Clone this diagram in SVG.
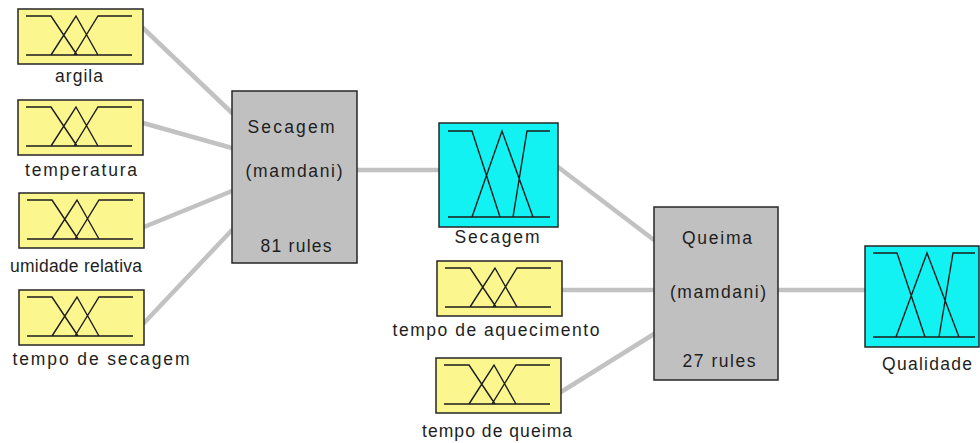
<svg xmlns="http://www.w3.org/2000/svg" width="980" height="443" viewBox="0 0 980 443">
<style>
.bg{fill:#ffffff}
.yb{fill:#fbf68e;stroke:#262626;stroke-width:1.5}
.cb{fill:#12f2f2;stroke:#262626;stroke-width:1.5}
.rb{fill:#c0c0c0;stroke:#262626;stroke-width:1.5}
.mf{fill:none;stroke:#1c1c1c;stroke-width:1.4}
.cn{stroke:#c2c2c2;stroke-width:4.5;stroke-linecap:round;fill:none}
text{font-family:"Liberation Sans",Arial,sans-serif;font-size:17.5px;fill:#1e1e1e;text-anchor:middle}
</style>
<defs>
<g id="ymf">
<rect class="yb" x="0" y="0" width="125" height="55"/>
<path class="mf" d="M8,46 H114 M8,7 H33 L59,46 M33,46 L58,7 L80,46 M56,46 L80,7 H114"/>
</g>
</defs>
<rect class="bg" x="0" y="0" width="980" height="443"/>
<g id="connectors">
<line class="cn" x1="143" y1="28" x2="232" y2="113"/>
<line class="cn" x1="143" y1="123" x2="232" y2="148"/>
<line class="cn" x1="144" y1="227" x2="232" y2="191"/>
<line class="cn" x1="144" y1="323" x2="232" y2="230"/>
<line class="cn" x1="357" y1="170" x2="439" y2="170"/>
<line class="cn" x1="558" y1="167" x2="654" y2="240"/>
<line class="cn" x1="562" y1="290" x2="654" y2="290"/>
<line class="cn" x1="561" y1="392" x2="654" y2="334"/>
<line class="cn" x1="778" y1="290" x2="865" y2="290"/>
</g>
<g id="argila">
<use href="#ymf" x="18" y="9"/>
<text x="79" y="82" textLength="48" lengthAdjust="spacing">argila</text>
</g>
<g id="temperatura">
<use href="#ymf" x="18" y="100"/>
<text x="81" y="176" textLength="112" lengthAdjust="spacing">temperatura</text>
</g>
<g id="umidade-relativa">
<use href="#ymf" x="19" y="193"/>
<text x="76" y="272" textLength="132" lengthAdjust="spacing">umidade relativa</text>
</g>
<g id="tempo-de-secagem">
<use href="#ymf" x="19" y="290"/>
<text x="101" y="365" textLength="177" lengthAdjust="spacing">tempo de secagem</text>
</g>
<g id="rule-secagem">
<rect class="rb" x="232" y="91" width="125" height="172"/>
<text x="291" y="133" textLength="87" lengthAdjust="spacing">Secagem</text>
<text x="294" y="177" textLength="97" lengthAdjust="spacing">(mamdani)</text>
<text x="296" y="252" textLength="71" lengthAdjust="spacing">81 rules</text>
</g>
<g id="out-secagem">
<rect class="cb" x="439" y="123" width="119" height="104"/>
<path class="mf" d="M448,217 H550 M448,131 H472 L500,217 M472,217 L502,131 L533,217 M513,217 L527,131 H550"/>
<text x="497" y="243" textLength="85" lengthAdjust="spacing">Secagem</text>
</g>
<g id="tempo-de-aquecimento">
<use href="#ymf" x="437" y="261"/>
<text x="496" y="336" textLength="207" lengthAdjust="spacing">tempo de aquecimento</text>
</g>
<g id="tempo-de-queima">
<use href="#ymf" x="436" y="358"/>
<text x="497" y="437" textLength="150" lengthAdjust="spacing">tempo de queima</text>
</g>
<g id="rule-queima">
<rect class="rb" x="654" y="207" width="124" height="173"/>
<text x="717" y="244" textLength="70" lengthAdjust="spacing">Queima</text>
<text x="718" y="298" textLength="96" lengthAdjust="spacing">(mamdani)</text>
<text x="719" y="367" textLength="73" lengthAdjust="spacing">27 rules</text>
</g>
<g id="out-qualidade">
<rect class="cb" x="865" y="246" width="114" height="101"/>
<path class="mf" d="M873,337 H975 M873,253 H897 L925,337 M896,337 L927,253 L959,337 M939,337 L953,253 H975"/>
<text x="927" y="370" textLength="90" lengthAdjust="spacing">Qualidade</text>
</g>
</svg>
